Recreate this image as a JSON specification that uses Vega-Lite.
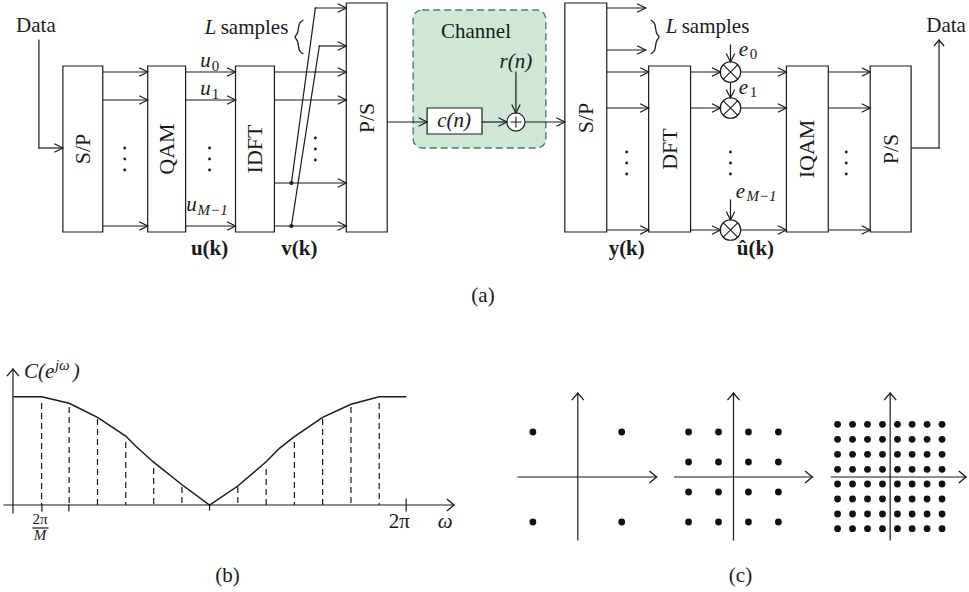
{
  "$schema": "https://vega.github.io/schema/vega-lite/v6.json",
  "width": 969,
  "height": 592,
  "autosize": {"type": "fit", "contains": "padding"},
  "padding": 0,
  "background": "white",
  "config": {"view": {"stroke": null}},
  "datasets": {
    "channel": [{"x": 414, "x2": 547, "y": 10, "y2": 148}],
    "boxes": [
      {"name": "S/P", "x": 63, "x2": 103, "y": 66, "y2": 232},
      {"name": "QAM", "x": 148, "x2": 186, "y": 66, "y2": 232},
      {"name": "IDFT", "x": 236, "x2": 275, "y": 66, "y2": 232},
      {"name": "P/S", "x": 347, "x2": 388, "y": 3, "y2": 232},
      {"name": "c(n)", "x": 428, "x2": 483, "y": 108, "y2": 134},
      {"name": "S/P 2", "x": 566, "x2": 608, "y": 3, "y2": 232},
      {"name": "DFT", "x": 650, "x2": 692, "y": 66, "y2": 232},
      {"name": "IQAM", "x": 788, "x2": 830, "y": 66, "y2": 232},
      {"name": "P/S 2", "x": 872, "x2": 913, "y": 66, "y2": 232}
    ],
    "seg": [
      {"x": 39, "y": 40, "x2": 39, "y2": 148}, {"x": 39, "y": 148, "x2": 63, "y2": 148},
      {"x": 103, "y": 72, "x2": 148, "y2": 72}, {"x": 103, "y": 100, "x2": 148, "y2": 100}, {"x": 103, "y": 226, "x2": 148, "y2": 226},
      {"x": 186, "y": 72, "x2": 236, "y2": 72}, {"x": 186, "y": 100, "x2": 236, "y2": 100}, {"x": 186, "y": 226, "x2": 236, "y2": 226},
      {"x": 275, "y": 72, "x2": 347, "y2": 72}, {"x": 275, "y": 100, "x2": 347, "y2": 100}, {"x": 275, "y": 183, "x2": 347, "y2": 183}, {"x": 275, "y": 226, "x2": 347, "y2": 226},
      {"x": 292, "y": 183, "x2": 316, "y2": 8}, {"x": 316, "y": 8, "x2": 347, "y2": 8},
      {"x": 292, "y": 226, "x2": 320, "y2": 46}, {"x": 320, "y": 46, "x2": 347, "y2": 46},
      {"x": 388, "y": 122, "x2": 428, "y2": 122}, {"x": 483, "y": 122, "x2": 508, "y2": 122},
      {"x": 517, "y": 72, "x2": 517, "y2": 113}, {"x": 526, "y": 122, "x2": 566, "y2": 122},
      {"x": 608, "y": 8, "x2": 647, "y2": 8}, {"x": 608, "y": 50, "x2": 647, "y2": 50},
      {"x": 608, "y": 72, "x2": 650, "y2": 72}, {"x": 608, "y": 108, "x2": 650, "y2": 108}, {"x": 608, "y": 230, "x2": 650, "y2": 230},
      {"x": 692, "y": 72, "x2": 722, "y2": 72}, {"x": 692, "y": 108, "x2": 722, "y2": 108}, {"x": 692, "y": 230, "x2": 722, "y2": 230},
      {"x": 742, "y": 72, "x2": 788, "y2": 72}, {"x": 742, "y": 108, "x2": 788, "y2": 108}, {"x": 742, "y": 230, "x2": 788, "y2": 230},
      {"x": 732, "y": 45, "x2": 732, "y2": 62}, {"x": 732, "y": 82, "x2": 732, "y2": 98}, {"x": 732, "y": 200, "x2": 732, "y2": 220},
      {"x": 830, "y": 72, "x2": 872, "y2": 72}, {"x": 830, "y": 108, "x2": 872, "y2": 108}, {"x": 830, "y": 230, "x2": 872, "y2": 230},
      {"x": 913, "y": 148, "x2": 941, "y2": 148}, {"x": 941, "y": 148, "x2": 941, "y2": 40},
      {"x": 13, "y": 369, "x2": 13, "y2": 513}, {"x": 4, "y": 505, "x2": 455, "y2": 505},
      {"x": 42, "y": 505, "x2": 42, "y2": 511}, {"x": 69, "y": 505, "x2": 69, "y2": 511}, {"x": 210, "y": 505, "x2": 210, "y2": 510}, {"x": 407, "y": 499, "x2": 407, "y2": 511},
      {"x": 33, "y": 528, "x2": 48, "y2": 528},
      {"x": 519, "y": 477, "x2": 658, "y2": 477}, {"x": 579, "y": 393, "x2": 579, "y2": 540},
      {"x": 676, "y": 477, "x2": 814, "y2": 477}, {"x": 735, "y": 393, "x2": 735, "y2": 540},
      {"x": 833, "y": 477, "x2": 968, "y2": 477}, {"x": 892, "y": 393, "x2": 892, "y2": 540}
    ],
    "dash": [
      {"x": 41.7, "y": 403, "y2": 505}, {"x": 69.3, "y": 407, "y2": 505}, {"x": 97.7, "y": 419, "y2": 505},
      {"x": 126, "y": 442, "y2": 505}, {"x": 154, "y": 468, "y2": 505}, {"x": 182.3, "y": 487, "y2": 505},
      {"x": 238.3, "y": 487, "y2": 505}, {"x": 266.7, "y": 469, "y2": 505}, {"x": 295, "y": 442, "y2": 505},
      {"x": 323.3, "y": 419, "y2": 505}, {"x": 351.7, "y": 407, "y2": 505}, {"x": 380, "y": 403, "y2": 505}
    ],
    "curve": [
      {"x": 13.3, "y": 396.7}, {"x": 41.7, "y": 396.7}, {"x": 69.3, "y": 403.3}, {"x": 97.7, "y": 417.3},
      {"x": 126, "y": 436}, {"x": 136.7, "y": 446.7}, {"x": 153.3, "y": 461.7}, {"x": 182.7, "y": 485},
      {"x": 210, "y": 505}, {"x": 238.3, "y": 486}, {"x": 266.7, "y": 461.7}, {"x": 280, "y": 448.3},
      {"x": 295, "y": 436.7}, {"x": 323.3, "y": 417.3}, {"x": 351.7, "y": 404.3}, {"x": 380, "y": 396.7},
      {"x": 407.3, "y": 396.7}
    ],
    "braces": [
      {"id": "left", "i": 0, "x": 304, "y": 20}, {"id": "left", "i": 1, "x": 299, "y": 23}, {"id": "left", "i": 2, "x": 299, "y": 34},
      {"id": "left", "i": 3, "x": 294, "y": 37}, {"id": "left", "i": 4, "x": 299, "y": 40}, {"id": "left", "i": 5, "x": 299, "y": 51},
      {"id": "left", "i": 6, "x": 304, "y": 54},
      {"id": "right", "i": 0, "x": 652, "y": 20}, {"id": "right", "i": 1, "x": 657, "y": 23}, {"id": "right", "i": 2, "x": 657, "y": 34},
      {"id": "right", "i": 3, "x": 662, "y": 37}, {"id": "right", "i": 4, "x": 657, "y": 40}, {"id": "right", "i": 5, "x": 657, "y": 51},
      {"id": "right", "i": 6, "x": 652, "y": 54}
    ],
    "arrows": [
      {"x": 63, "y": 148, "dir": "r"}, {"x": 148, "y": 72, "dir": "r"}, {"x": 148, "y": 100, "dir": "r"}, {"x": 148, "y": 226, "dir": "r"},
      {"x": 236, "y": 72, "dir": "r"}, {"x": 236, "y": 100, "dir": "r"}, {"x": 236, "y": 226, "dir": "r"},
      {"x": 347, "y": 8, "dir": "r"}, {"x": 347, "y": 46, "dir": "r"}, {"x": 347, "y": 72, "dir": "r"}, {"x": 347, "y": 100, "dir": "r"},
      {"x": 347, "y": 183, "dir": "r"}, {"x": 347, "y": 226, "dir": "r"},
      {"x": 428, "y": 122, "dir": "r"}, {"x": 508, "y": 122, "dir": "r"}, {"x": 566, "y": 122, "dir": "r"},
      {"x": 647, "y": 8, "dir": "r"}, {"x": 647, "y": 50, "dir": "r"}, {"x": 650, "y": 72, "dir": "r"}, {"x": 650, "y": 108, "dir": "r"}, {"x": 650, "y": 230, "dir": "r"},
      {"x": 722, "y": 72, "dir": "r"}, {"x": 722, "y": 108, "dir": "r"}, {"x": 722, "y": 230, "dir": "r"},
      {"x": 788, "y": 72, "dir": "r"}, {"x": 788, "y": 108, "dir": "r"}, {"x": 788, "y": 230, "dir": "r"},
      {"x": 872, "y": 72, "dir": "r"}, {"x": 872, "y": 108, "dir": "r"}, {"x": 872, "y": 230, "dir": "r"},
      {"x": 517, "y": 113, "dir": "d"}, {"x": 732, "y": 62, "dir": "d"}, {"x": 732, "y": 98, "dir": "d"}, {"x": 732, "y": 220, "dir": "d"},
      {"x": 941, "y": 40, "dir": "u"}
    ],
    "axisArrows": [
      {"x": 13, "y": 369, "dir": "u"}, {"x": 455, "y": 505, "dir": "r"},
      {"x": 658, "y": 477, "dir": "r"}, {"x": 579, "y": 393, "dir": "u"},
      {"x": 814, "y": 477, "dir": "r"}, {"x": 735, "y": 393, "dir": "u"},
      {"x": 968, "y": 477, "dir": "r"}, {"x": 892, "y": 393, "dir": "u"}
    ],
    "mult": [{"x": 732, "y": 72}, {"x": 732, "y": 108}, {"x": 732, "y": 230}],
    "adder": [{"x": 517, "y": 122}],
    "junction": [{"x": 292, "y": 183}, {"x": 292, "y": 226}],
    "ellipsis": [
      {"x": 125, "y": 148}, {"x": 125, "y": 159}, {"x": 125, "y": 170},
      {"x": 210, "y": 148}, {"x": 210, "y": 159}, {"x": 210, "y": 170},
      {"x": 316, "y": 138}, {"x": 316, "y": 149}, {"x": 316, "y": 160},
      {"x": 628, "y": 152}, {"x": 628, "y": 163}, {"x": 628, "y": 174},
      {"x": 732, "y": 152}, {"x": 732, "y": 163}, {"x": 732, "y": 174},
      {"x": 848, "y": 152}, {"x": 848, "y": 163}, {"x": 848, "y": 174}
    ],
    "constellation": [
      {"q": 4, "x": 534, "y": 432}, {"q": 4, "x": 623, "y": 432}, {"q": 4, "x": 534, "y": 522}, {"q": 4, "x": 623, "y": 522},
      {"q": 16, "x": 690, "y": 432}, {"q": 16, "x": 720, "y": 432}, {"q": 16, "x": 750, "y": 432}, {"q": 16, "x": 780, "y": 432},
      {"q": 16, "x": 690, "y": 462}, {"q": 16, "x": 720, "y": 462}, {"q": 16, "x": 750, "y": 462}, {"q": 16, "x": 780, "y": 462},
      {"q": 16, "x": 690, "y": 492}, {"q": 16, "x": 720, "y": 492}, {"q": 16, "x": 750, "y": 492}, {"q": 16, "x": 780, "y": 492},
      {"q": 16, "x": 690, "y": 522}, {"q": 16, "x": 720, "y": 522}, {"q": 16, "x": 750, "y": 522}, {"q": 16, "x": 780, "y": 522},
      {"q": 64, "x": 839.3, "y": 424.3}, {"q": 64, "x": 854.3, "y": 424.3}, {"q": 64, "x": 869.3, "y": 424.3}, {"q": 64, "x": 884.3, "y": 424.3}, {"q": 64, "x": 899.3, "y": 424.3}, {"q": 64, "x": 914, "y": 424.3}, {"q": 64, "x": 929, "y": 424.3}, {"q": 64, "x": 944, "y": 424.3},
      {"q": 64, "x": 839.3, "y": 439.3}, {"q": 64, "x": 854.3, "y": 439.3}, {"q": 64, "x": 869.3, "y": 439.3}, {"q": 64, "x": 884.3, "y": 439.3}, {"q": 64, "x": 899.3, "y": 439.3}, {"q": 64, "x": 914, "y": 439.3}, {"q": 64, "x": 929, "y": 439.3}, {"q": 64, "x": 944, "y": 439.3},
      {"q": 64, "x": 839.3, "y": 454.3}, {"q": 64, "x": 854.3, "y": 454.3}, {"q": 64, "x": 869.3, "y": 454.3}, {"q": 64, "x": 884.3, "y": 454.3}, {"q": 64, "x": 899.3, "y": 454.3}, {"q": 64, "x": 914, "y": 454.3}, {"q": 64, "x": 929, "y": 454.3}, {"q": 64, "x": 944, "y": 454.3},
      {"q": 64, "x": 839.3, "y": 469.3}, {"q": 64, "x": 854.3, "y": 469.3}, {"q": 64, "x": 869.3, "y": 469.3}, {"q": 64, "x": 884.3, "y": 469.3}, {"q": 64, "x": 899.3, "y": 469.3}, {"q": 64, "x": 914, "y": 469.3}, {"q": 64, "x": 929, "y": 469.3}, {"q": 64, "x": 944, "y": 469.3},
      {"q": 64, "x": 839.3, "y": 484}, {"q": 64, "x": 854.3, "y": 484}, {"q": 64, "x": 869.3, "y": 484}, {"q": 64, "x": 884.3, "y": 484}, {"q": 64, "x": 899.3, "y": 484}, {"q": 64, "x": 914, "y": 484}, {"q": 64, "x": 929, "y": 484}, {"q": 64, "x": 944, "y": 484},
      {"q": 64, "x": 839.3, "y": 499}, {"q": 64, "x": 854.3, "y": 499}, {"q": 64, "x": 869.3, "y": 499}, {"q": 64, "x": 884.3, "y": 499}, {"q": 64, "x": 899.3, "y": 499}, {"q": 64, "x": 914, "y": 499}, {"q": 64, "x": 929, "y": 499}, {"q": 64, "x": 944, "y": 499},
      {"q": 64, "x": 839.3, "y": 514}, {"q": 64, "x": 854.3, "y": 514}, {"q": 64, "x": 869.3, "y": 514}, {"q": 64, "x": 884.3, "y": 514}, {"q": 64, "x": 899.3, "y": 514}, {"q": 64, "x": 914, "y": 514}, {"q": 64, "x": 929, "y": 514}, {"q": 64, "x": 944, "y": 514},
      {"q": 64, "x": 839.3, "y": 528.7}, {"q": 64, "x": 854.3, "y": 528.7}, {"q": 64, "x": 869.3, "y": 528.7}, {"q": 64, "x": 884.3, "y": 528.7}, {"q": 64, "x": 899.3, "y": 528.7}, {"q": 64, "x": 914, "y": 528.7}, {"q": 64, "x": 929, "y": 528.7}, {"q": 64, "x": 944, "y": 528.7}
    ],
    "rotated": [
      {"x": 83, "y": 149, "t": "S/P"}, {"x": 167, "y": 149, "t": "QAM"}, {"x": 255.5, "y": 149, "t": "IDFT"},
      {"x": 367.5, "y": 118, "t": "P/S"}, {"x": 587, "y": 118, "t": "S/P"}, {"x": 671, "y": 149, "t": "DFT"},
      {"x": 809, "y": 149, "t": "IQAM"}, {"x": 892.5, "y": 149, "t": "P/S"}
    ],
    "roman": [
      {"x": 36, "y": 32, "t": "Data"}, {"x": 948, "y": 32, "t": "Data"}, {"x": 477, "y": 38, "t": "Channel"},
      {"x": 255, "y": 34, "t": "samples"}, {"x": 717, "y": 33, "t": "samples"},
      {"x": 484, "y": 302, "t": "(a)"}, {"x": 228, "y": 582, "t": "(b)"}, {"x": 742, "y": 582, "t": "(c)"},
      {"x": 400, "y": 528, "t": "2π"}
    ],
    "italic": [
      {"x": 211, "y": 34, "t": "L"}, {"x": 673, "y": 33, "t": "L"},
      {"x": 206, "y": 67, "t": "u"}, {"x": 206, "y": 95, "t": "u"}, {"x": 192, "y": 211, "t": "u"},
      {"x": 517, "y": 68, "t": "r(n)"}, {"x": 455, "y": 127, "t": "c(n)"},
      {"x": 745, "y": 56, "t": "e"}, {"x": 745, "y": 94, "t": "e"}, {"x": 742, "y": 198, "t": "e"},
      {"x": 446, "y": 528, "t": "ω"}
    ],
    "italicLeft": [
      {"x": 24, "y": 378, "t": "C(e"}, {"x": 73, "y": 378, "t": ")"}
    ],
    "small": [
      {"x": 216, "y": 71, "t": "0"}, {"x": 216, "y": 99, "t": "1"},
      {"x": 755, "y": 59, "t": "0"}, {"x": 755, "y": 97, "t": "1"},
      {"x": 40, "y": 524, "t": "2π"}
    ],
    "smallItalic": [
      {"x": 40, "y": 540, "t": "M"}
    ],
    "smallItalicLeft": [
      {"x": 198, "y": 215, "t": "M−1"}, {"x": 748, "y": 201, "t": "M−1"}, {"x": 55, "y": 370, "t": "jω"}
    ],
    "bold": [
      {"x": 210, "y": 255, "t": "u(k)"}, {"x": 300, "y": 255, "t": "v(k)"},
      {"x": 628, "y": 255, "t": "y(k)"}, {"x": 757, "y": 255, "t": "û(k)"}
    ]
  },
  "encoding": {
    "x": {"field": "x", "type": "quantitative", "scale": {"domain": [0, 969], "nice": false, "zero": false}, "axis": null},
    "y": {"field": "y", "type": "quantitative", "scale": {"domain": [0, 592], "nice": false, "zero": false, "reverse": true}, "axis": null}
  },
  "layer": [
    {
      "data": {"name": "channel"},
      "mark": {"type": "rect", "fill": "#cfe7d6", "stroke": "#4e7a6c", "strokeWidth": 1.4, "strokeDash": [7, 4], "cornerRadius": 9},
      "encoding": {"x2": {"field": "x2"}, "y2": {"field": "y2"}}
    },
    {
      "data": {"name": "seg"},
      "mark": {"type": "rule", "color": "#1a1a1a", "strokeWidth": 1.2, "strokeCap": "square"},
      "encoding": {"x2": {"field": "x2"}, "y2": {"field": "y2"}}
    },
    {
      "data": {"name": "dash"},
      "mark": {"type": "rule", "color": "#1a1a1a", "strokeWidth": 1.2, "strokeDash": [6, 4]},
      "encoding": {"y2": {"field": "y2"}}
    },
    {
      "data": {"name": "curve"},
      "mark": {"type": "line", "color": "#1a1a1a", "strokeWidth": 1.5, "interpolate": "linear"},
      "encoding": {}
    },
    {
      "data": {"name": "braces"},
      "mark": {"type": "line", "color": "#1a1a1a", "strokeWidth": 1.3, "interpolate": "basis"},
      "encoding": {"detail": {"field": "id"}, "order": {"field": "i", "type": "quantitative"}}
    },
    {
      "data": {"name": "boxes"},
      "mark": {"type": "rect", "fill": "white", "stroke": "#1a1a1a", "strokeWidth": 1.2},
      "encoding": {"x2": {"field": "x2"}, "y2": {"field": "y2"}}
    },
    {
      "data": {"name": "mult"},
      "mark": {"type": "point", "shape": "circle", "size": 420, "filled": true, "fill": "white", "stroke": "#1a1a1a", "strokeWidth": 1.2, "opacity": 1}
    },
    {
      "data": {"name": "mult"},
      "mark": {"type": "point", "shape": "M-0.7,-0.7L0.7,0.7M-0.7,0.7L0.7,-0.7", "size": 420, "filled": false, "stroke": "#1a1a1a", "strokeWidth": 1.1, "opacity": 1}
    },
    {
      "data": {"name": "adder"},
      "mark": {"type": "point", "shape": "circle", "size": 330, "filled": true, "fill": "white", "stroke": "#1a1a1a", "strokeWidth": 1.2, "opacity": 1}
    },
    {
      "data": {"name": "adder"},
      "mark": {"type": "point", "shape": "M-0.6,0L0.6,0M0,-0.6L0,0.6", "size": 330, "filled": false, "stroke": "#1a1a1a", "strokeWidth": 1.1, "opacity": 1}
    },
    {
      "data": {"name": "arrows"},
      "transform": [{"filter": "datum.dir === 'r'"}],
      "mark": {"type": "point", "shape": "M-2,-1L0,0L-2,1", "size": 72, "filled": false, "stroke": "#1a1a1a", "strokeWidth": 1.2, "opacity": 1, "angle": 0}
    },
    {
      "data": {"name": "arrows"},
      "transform": [{"filter": "datum.dir === 'd'"}],
      "mark": {"type": "point", "shape": "M-2,-1L0,0L-2,1", "size": 72, "filled": false, "stroke": "#1a1a1a", "strokeWidth": 1.2, "opacity": 1, "angle": 90}
    },
    {
      "data": {"name": "arrows"},
      "transform": [{"filter": "datum.dir === 'u'"}],
      "mark": {"type": "point", "shape": "M-1.2,-1L0,0L-1.2,1", "size": 100, "filled": false, "stroke": "#1a1a1a", "strokeWidth": 1.2, "opacity": 1, "angle": 270}
    },
    {
      "data": {"name": "axisArrows"},
      "transform": [{"filter": "datum.dir === 'r'"}],
      "mark": {"type": "point", "shape": "M-1.2,-1L0,0L-1.2,1", "size": 144, "filled": false, "stroke": "#1a1a1a", "strokeWidth": 1.3, "opacity": 1, "angle": 0}
    },
    {
      "data": {"name": "axisArrows"},
      "transform": [{"filter": "datum.dir === 'u'"}],
      "mark": {"type": "point", "shape": "M-1.2,-1L0,0L-1.2,1", "size": 144, "filled": false, "stroke": "#1a1a1a", "strokeWidth": 1.3, "opacity": 1, "angle": 270}
    },
    {
      "data": {"name": "junction"},
      "mark": {"type": "point", "shape": "circle", "size": 18, "filled": true, "color": "#1a1a1a", "opacity": 1}
    },
    {
      "data": {"name": "ellipsis"},
      "mark": {"type": "point", "shape": "circle", "size": 8, "filled": true, "color": "#1a1a1a", "opacity": 1}
    },
    {
      "data": {"name": "constellation"},
      "mark": {"type": "point", "shape": "circle", "size": 46, "filled": true, "color": "#111111", "opacity": 1}
    },
    {
      "data": {"name": "rotated"},
      "mark": {"type": "text", "font": "Liberation Serif", "fontSize": 22, "angle": 270, "align": "center", "baseline": "middle", "color": "#1a1a1a"},
      "encoding": {"text": {"field": "t"}}
    },
    {
      "data": {"name": "roman"},
      "mark": {"type": "text", "font": "Liberation Serif", "fontSize": 21, "align": "center", "baseline": "alphabetic", "color": "#1a1a1a"},
      "encoding": {"text": {"field": "t"}}
    },
    {
      "data": {"name": "italic"},
      "mark": {"type": "text", "font": "Liberation Serif", "fontSize": 21, "fontStyle": "italic", "align": "center", "baseline": "alphabetic", "color": "#1a1a1a"},
      "encoding": {"text": {"field": "t"}}
    },
    {
      "data": {"name": "italicLeft"},
      "mark": {"type": "text", "font": "Liberation Serif", "fontSize": 21, "fontStyle": "italic", "align": "left", "baseline": "alphabetic", "color": "#1a1a1a"},
      "encoding": {"text": {"field": "t"}}
    },
    {
      "data": {"name": "small"},
      "mark": {"type": "text", "font": "Liberation Serif", "fontSize": 15, "align": "center", "baseline": "alphabetic", "color": "#1a1a1a"},
      "encoding": {"text": {"field": "t"}}
    },
    {
      "data": {"name": "smallItalic"},
      "mark": {"type": "text", "font": "Liberation Serif", "fontSize": 15, "fontStyle": "italic", "align": "center", "baseline": "alphabetic", "color": "#1a1a1a"},
      "encoding": {"text": {"field": "t"}}
    },
    {
      "data": {"name": "smallItalicLeft"},
      "mark": {"type": "text", "font": "Liberation Serif", "fontSize": 15, "fontStyle": "italic", "align": "left", "baseline": "alphabetic", "color": "#1a1a1a"},
      "encoding": {"text": {"field": "t"}}
    },
    {
      "data": {"name": "bold"},
      "mark": {"type": "text", "font": "Liberation Serif", "fontSize": 21, "fontWeight": "bold", "align": "center", "baseline": "alphabetic", "color": "#1a1a1a"},
      "encoding": {"text": {"field": "t"}}
    }
  ]
}
